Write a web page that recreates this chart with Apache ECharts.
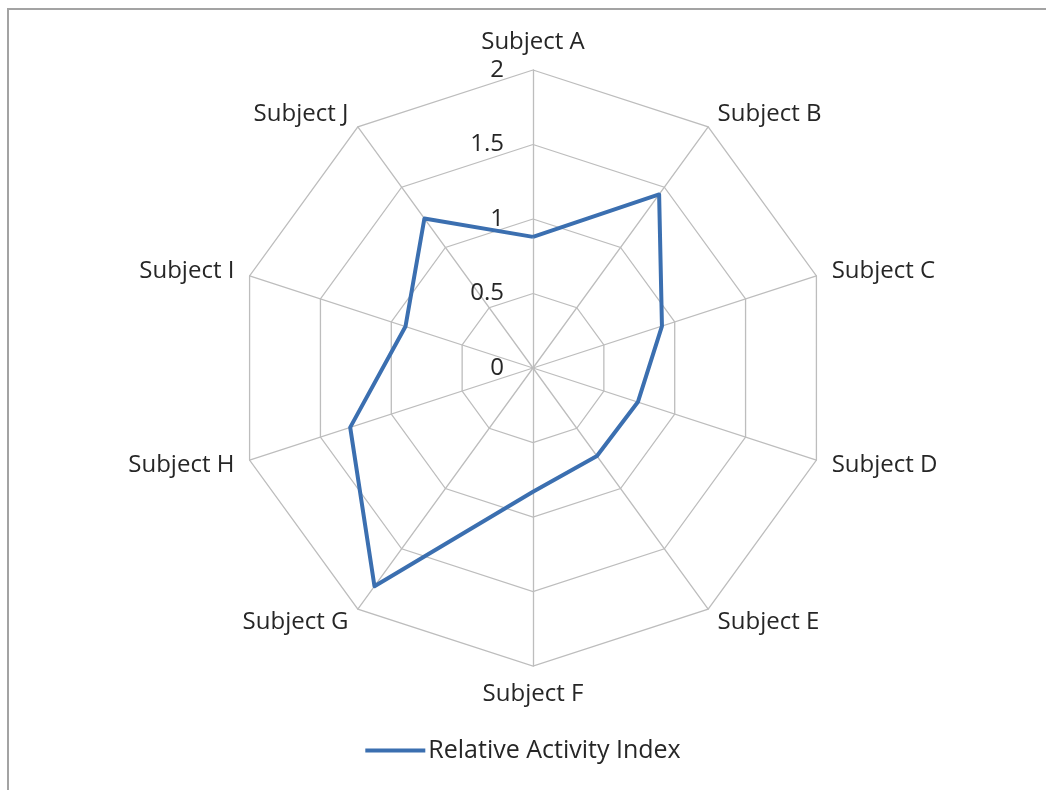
<!DOCTYPE html>
<html>
<head>
<meta charset="utf-8">
<script src="https://cdn.jsdelivr.net/npm/echarts@6/dist/echarts.min.js"></script>
<style>
  html, body { margin: 0; padding: 0; background: #fff; }
  #frame { position: absolute; left: 7px; top: 8px; width: 1200px; height: 900px;
           border-left: 2px solid #a3a3a3; border-top: 2px solid #a3a3a3; }
  #radarChart { position: absolute; left: 0; top: 0; width: 1046px; height: 790px; }
</style>
</head>
<body>
<div id="frame"></div>
<div id="radarChart"></div>
<script>
// subjects in clockwise order as in the picture
const subjects = ['Subject A', 'Subject B', 'Subject C', 'Subject D', 'Subject E',
                  'Subject F', 'Subject G', 'Subject H', 'Subject I', 'Subject J'];
const activityIndex = [0.88, 1.44, 0.91, 0.74, 0.73, 0.83, 1.81, 1.29, 0.90, 1.24];
const seriesName = 'Relative Activity Index';
const axisMax = 2;
const axisStep = 0.5;

// echarts radar runs counter-clockwise, so keep A first and reverse the rest
const order = [0].concat(subjects.map((_, i) => i).slice(1).reverse());
const indicators = order.map(i => ({ name: subjects[i], min: 0, max: axisMax }));
const values = order.map(i => activityIndex[i]);

const center = [533, 368];
const radius = 298;
const textColor = '#262626';
const font = '"Open Sans", Lato, sans-serif';
const fontSize = 24;

const option = {
    animation: false,
    textStyle: { fontFamily: font },
    legend: {
        bottom: 22,
        left: 'center',
        icon: 'rect',
        itemWidth: 60,
        itemHeight: 4,
        itemGap: 10,
        data: [seriesName],
        textStyle: { color: textColor, fontSize: 25, fontFamily: font, padding: [0, 0, 0, -2] },
    },
    radar: {
        center: center,
        radius: radius,
        startAngle: 90,
        shape: 'polygon',
        splitNumber: axisMax / axisStep,
        indicator: indicators,
        nameGap: 16,
        axisName: { color: textColor, fontSize: fontSize, fontFamily: font },
        axisLine: { lineStyle: { color: '#bdbdbd', width: 1.3 } },
        splitLine: { lineStyle: { color: '#bdbdbd', width: 1.3 } },
        splitArea: { show: false },
    },
    // polar overlay only to print the 0 .. 2 scale along Subject A's axis
    polar: { center: center, radius: radius },
    angleAxis: { show: false, startAngle: 90, min: 0, max: 360 },
    radiusAxis: {
        min: 0,
        max: axisMax,
        interval: axisStep,
        axisLine: { show: false },
        axisTick: { show: false },
        splitLine: { show: false },
        axisLabel: { color: textColor, fontSize: fontSize, fontFamily: font, margin: 29 },
    },
    series: [
        {
            name: seriesName,
            type: 'radar',
            symbol: 'none',
            lineStyle: { color: '#3b6fb0', width: 4 },
            itemStyle: { color: '#3b6fb0' },
            data: [{ value: values, name: seriesName }],
        },
    ],
};

const chart = echarts.init(document.getElementById('radarChart'));
chart.setOption(option);
</script>
</body>
</html>
